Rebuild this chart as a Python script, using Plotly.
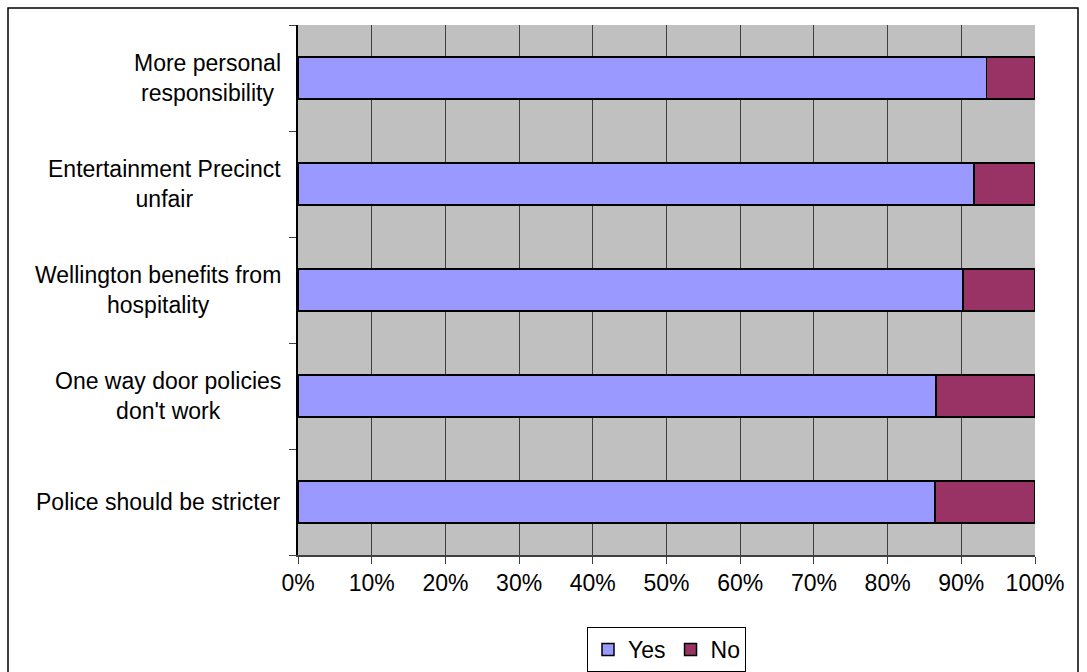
import plotly.graph_objects as go

# Survey statements, listed from top to bottom
statements = [
    "More personal<br>responsibility",
    "Entertainment Precinct<br>unfair",
    "Wellington benefits from<br>hospitality",
    "One way door policies<br>don't work",
    "Police should be stricter",
]
yes_pct = [93.4, 91.7, 90.2, 86.6, 86.4]
no_pct = [6.6, 8.3, 9.8, 13.4, 13.6]
x_ticks = list(range(0, 101, 10))
x_tick_labels = [f"{v}%" for v in x_ticks]

W, H = 1087, 672
L, R, T, B = 298, 52, 25, 117
plot_w = W - L - R
plot_h = H - T - B

FONT = "Liberation Sans, Arial, sans-serif"
FS = 23

cat_ids = list(range(len(statements)))
boundaries = [i - 0.5 for i in range(len(statements) + 1)]

fig = go.Figure()
fig.add_trace(go.Bar(
    y=cat_ids, x=yes_pct, name="Yes", orientation="h",
    marker=dict(color="#9999FF", line=dict(color="#000000", width=1.5)),
))
fig.add_trace(go.Bar(
    y=cat_ids, x=no_pct, name="No", orientation="h",
    marker=dict(color="#993366", line=dict(color="#000000", width=1.5)),
))

# Category labels: each line centred, block right-aligned against the axis
for i, s in enumerate(statements):
    fig.add_annotation(
        x=0, y=i, xref="paper", yref="y", xanchor="right", yanchor="middle",
        xshift=-15, text=s, showarrow=False, align="center",
        font=dict(family=FONT, size=FS, color="#000000"),
    )

# Outer chart border (in paper coordinates)
def px_to_paper_x(px):
    return (px - L) / plot_w

def px_to_paper_y(py):
    return (H - B - py) / plot_h

fig.add_shape(
    type="rect", xref="paper", yref="paper",
    x0=px_to_paper_x(8), x1=px_to_paper_x(1078),
    y0=px_to_paper_y(690), y1=px_to_paper_y(8),
    line=dict(color="#000000", width=1.5), fillcolor="rgba(0,0,0,0)", layer="below",
)

fig.update_layout(
    width=W, height=H,
    margin=dict(l=L, r=R, t=T, b=B, pad=0, autoexpand=False),
    barmode="stack", bargap=0.6,
    paper_bgcolor="#FFFFFF", plot_bgcolor="#C0C0C0",
    font=dict(family=FONT, size=FS, color="#000000"),
    showlegend=True,
    legend=dict(
        orientation="h", x=0.5, xanchor="center",
        y=px_to_paper_y(627), yanchor="top",
        bordercolor="#000000", borderwidth=1, bgcolor="#FFFFFF",
        font=dict(family=FONT, size=FS), itemwidth=30,
        traceorder="normal", tracegroupgap=0,
    ),
    xaxis=dict(
        range=[0, 100], tickvals=x_ticks, ticktext=x_tick_labels,
        showgrid=True, gridcolor="#404040", gridwidth=1,
        showline=True, linecolor="#404040", linewidth=1.5,
        ticks="outside", ticklen=7, tickcolor="#404040",
        zeroline=False, tickfont=dict(family=FONT, size=FS),
        fixedrange=True, automargin=False,
    ),
    yaxis=dict(
        tickmode="array", tickvals=boundaries, ticktext=[""] * len(boundaries),
        range=[len(cat_ids) - 0.5, -0.5],
        showgrid=False, showline=True, linecolor="#000000", linewidth=1.5,
        ticks="outside", ticklen=7, tickcolor="#404040",
        zeroline=False, fixedrange=True, type="linear", automargin=False,
    ),
)

fig.write_html("out.html")
